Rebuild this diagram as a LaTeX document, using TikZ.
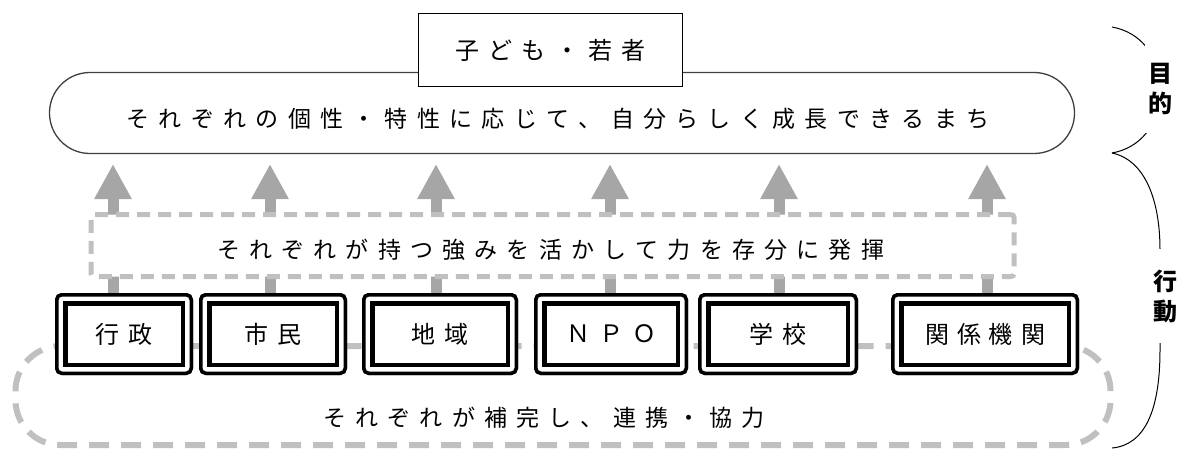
\documentclass[tikz,border=0pt]{standalone}
\usepackage{fontspec}
\setmainfont{Noto Sans CJK JP}
\usetikzlibrary{arrows.meta}
\definecolor{arrgray}{HTML}{A6A6A6}
\definecolor{dashgray}{HTML}{C0C0C0}
\definecolor{rimgray}{HTML}{404040}
\makeatletter
\newcommand\spc[2]{\begingroup\let\spc@first\relax
  \@tfor\spc@c:=#2\do{\ifx\spc@first\relax\let\spc@first\empty\else\kern#1\relax\fi\spc@c}\endgroup}
\makeatother
\begin{document}
\begin{tikzpicture}[x=1pt,y=-1pt,
  every node/.style={inner sep=0pt, outer sep=0pt},
  bigtext/.style={font=\fontsize{23}{27}\selectfont},
  labtext/.style={font=\fontsize{24}{28}\selectfont},
  sidetext/.style={font=\fontsize{24}{30}\selectfont\bfseries, align=center, fill=white, inner xsep=3pt},
  goalbox/.style={draw=rimgray, line width=1.3pt, fill=white, rounded corners=40.4pt,
    minimum width=1025pt, minimum height=81pt},
  topbox/.style={draw=black, line width=1.2pt, fill=white, minimum width=264pt, minimum height=73pt, labtext},
  midbox/.style={draw=dashgray, line width=5pt, dash pattern=on 13pt off 8pt, rounded corners=3pt,
    fill=white, minimum width=923pt, minimum height=62pt},
  ovalbox/.style={draw=dashgray, line width=6pt, dash pattern=on 20pt off 12pt, rounded corners=45pt,
    minimum width=1095pt, minimum height=99pt},
  outbox/.style={draw=black, line width=3.5pt, rounded corners=5pt, fill=white, minimum height=78.5pt},
  inbox/.style={draw=black, line width=4.5pt, fill=white, minimum height=61.5pt, labtext},
  uparr/.style={draw=arrgray, line width=11pt, -{Triangle[width=35pt,length=35pt]}},
  bracepath/.style={draw=black, line width=1pt}
]
\useasboundingbox (0,0) rectangle (1180,450);

% bottom dashed oval (cooperation)
\node[ovalbox] (oval) at (563,395.5) {};
\node[bigtext] (ovaltext) at (544,418) {\spc{9.2pt}{それぞれが補完し、連携・協力}};

% arrow tips
\coordinate (t1) at (113,164);
\coordinate (t2) at (270,164);
\coordinate (t3) at (436,164);
\coordinate (t4) at (610,164);
\coordinate (t5) at (779,164);
\coordinate (t6) at (987,164);

% actor boxes (outer frames, used to anchor the arrows)
\node[outbox, minimum width=134.5pt] (gyo) at (124,334) {};
\node[outbox, minimum width=144.5pt] (shi) at (273,334) {};
\node[outbox, minimum width=152.5pt] (chi) at (440,334) {};
\node[outbox, minimum width=150.5pt] (npo) at (611,334) {};
\node[outbox, minimum width=156.5pt] (gak) at (778,334) {};
\node[outbox, minimum width=184.5pt] (kan) at (985,334) {};

% arrows
\draw[uparr] (gyo.north -| t1) -- (t1);
\draw[uparr] (shi.north -| t2) -- (t2);
\draw[uparr] (chi.north -| t3) -- (t3);
\draw[uparr] (npo.north -| t4) -- (t4);
\draw[uparr] (gak.north -| t5) -- (t5);
\draw[uparr] (kan.north -| t6) -- (t6);

% outer frames again, over the arrow shafts
\node[outbox, minimum width=134.5pt] at (gyo) {};
\node[outbox, minimum width=144.5pt] at (shi) {};
\node[outbox, minimum width=152.5pt] at (chi) {};
\node[outbox, minimum width=150.5pt] at (npo) {};
\node[outbox, minimum width=156.5pt] at (gak) {};
\node[outbox, minimum width=184.5pt] at (kan) {};

% inner frames with labels
\node[inbox, minimum width=117.5pt] (gyoin) at (gyo) {\spc{9pt}{行政}};
\node[inbox, minimum width=127.5pt] (shiin) at (shi) {\spc{9pt}{市民}};
\node[inbox, minimum width=135.5pt] (chiin) at (chi) {\spc{9pt}{地域}};
\node[inbox, minimum width=133.5pt] (npoin) at (npo) {\spc{9pt}{ＮＰＯ}};
\node[inbox, minimum width=139.5pt] (gakin) at (gak) {\spc{9pt}{学校}};
\node[inbox, minimum width=167.5pt] (kanin) at (kan) {\spc{8pt}{関係機関}};

% middle dashed box
\node[midbox] (mid) at (552.5,245.5) {};
\node[bigtext] (midtext) at (550.5,250) {\spc{9.2pt}{それぞれが持つ強みを活かして力を存分に発揮}};

% goal
\node[goalbox] (goal) at (562,113) {};
\node[bigtext] (goaltext) at (558,119) {\spc{9.3pt}{それぞれの個性・特性に応じて、自分らしく成長できるまち}};
\node[topbox] (top) at (550.5,50) {\spc{9.2pt}{子ども・若者}};

% side braces
\draw[bracepath] (1112,27) .. controls (1140,32) and (1160,55) .. (1160,90)
  .. controls (1160,125) and (1140,148) .. (1112,153);
\draw[bracepath] (1112,153) .. controls (1145,160) and (1160,200) .. (1160,250)
  -- (1160,350) .. controls (1160,410) and (1145,445) .. (1112,448);
\node[sidetext, inner ysep=18pt] (mokuteki) at (1160,89) {目\\的};
\node[sidetext, inner ysep=20pt] (kodo) at (1165,296) {行\\動};
\end{tikzpicture}
\end{document}
